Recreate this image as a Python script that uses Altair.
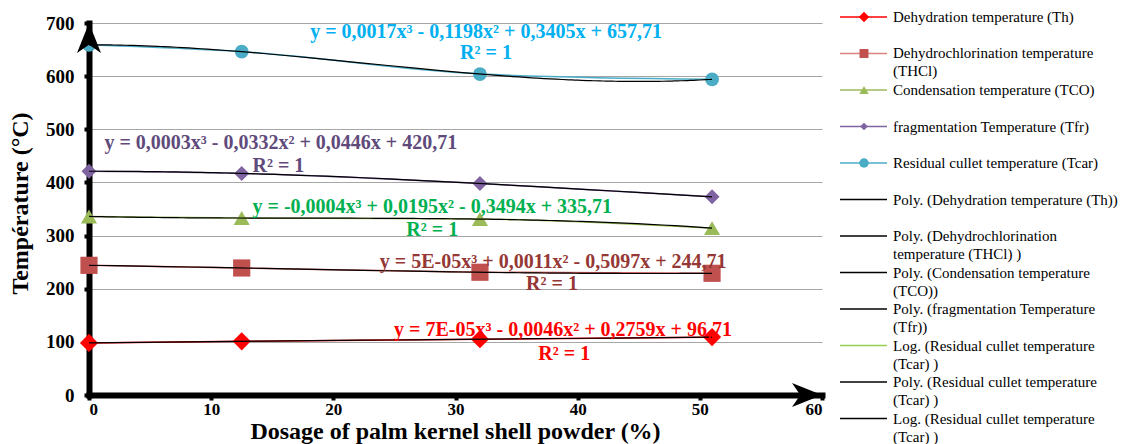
import altair as alt
import pandas as pd

# ---------------- data ----------------
dosage = [0, 12.5, 32, 51]
th = [98, 101, 105, 109]
thcl = [244, 239, 231, 229]
tco = [336, 333, 331, 314]
tfr = [421, 417, 398, 373]
tcar = [659, 646, 604, 594]

series_names = ["Th", "THCl", "TCO", "Tfr", "Tcar"]
series_values = [th, thcl, tco, tfr, tcar]

x_ticks = [0, 10, 20, 30, 40, 50, 60]
y_ticks = [0, 100, 200, 300, 400, 500, 600, 700]

# styles
series_colors = ["#FF0000", "#C0504D", "#9BBB59", "#8064A2", "#4BACC6"]
series_shapes = ["diamond", "square", "triangle-up", "diamond", "circle"]
series_sizes = [330, 190, 230, 100, 270]

# equations (annotation text and anchor in data units)
eq_text = [
    "y = 0,0017x³ - 0,1198x² + 0,3405x + 657,71", "R² = 1",
    "y = 0,0003x³ - 0,0332x² + 0,0446x + 420,71", "R² = 1",
    "y = -0,0004x³ + 0,0195x² - 0,3494x + 335,71", "R² = 1",
    "y = 5E-05x³ + 0,0011x² - 0,5097x + 244,71", "R² = 1",
    "y = 7E-05x³ - 0,0046x² + 0,2759x + 96,71", "R² = 1",
]
eq_x = [32.5, 32.5, 15.7, 15.5, 28.1, 28.1, 38.0, 37.9, 38.8, 38.9]
eq_y = [684, 643, 475, 430, 353, 311, 250, 209, 123, 78]
eq_colors = ["#00B0F0", "#00B0F0", "#604A7B", "#604A7B", "#00B050", "#00B050",
             "#953735", "#953735", "#FF0000", "#FF0000"]

# legend
leg_line1 = [
    "Dehydration temperature (Th)",
    "Dehydrochlorination temperature",
    "Condensation temperature (TCO)",
    "fragmentation Temperature (Tfr)",
    "Residual cullet temperature (Tcar)",
    "Poly. (Dehydration temperature (Th))",
    "Poly. (Dehydrochlorination",
    "Poly. (Condensation temperature",
    "Poly. (fragmentation Temperature",
    "Log. (Residual cullet temperature",
    "Poly. (Residual cullet temperature",
    "Log. (Residual cullet temperature",
]
leg_line2 = ["", "(THCl)", "", "", "", "", "temperature (THCl) )", "(TCO))",
             "(Tfr))", "(Tcar) )", "(Tcar) )", "(Tcar) )"]
leg_line_colors = ["#FF0000", "#D98380", "#9BBB59", "#8064A2", "#4BACC6",
                   "black", "black", "black", "black", "#92D050", "black", "black"]
leg_marker_sizes = [110, 80, 90, 60, 90]

FONT = "Liberation Serif"

# ---------------- tables ----------------
rows = []
for name, vals in zip(series_names, series_values):
    for xv, yv in zip(dosage, vals):
        rows.append({"series": name, "dosage": xv, "temp": yv})
df = pd.DataFrame(rows)

df_eq = pd.DataFrame({"dosage": eq_x, "temp": eq_y, "text": eq_text, "color": eq_colors})

df_leg = pd.DataFrame({
    "idx": list(range(len(leg_line1))),
    "l1": leg_line1,
    "l2": leg_line2,
    "lc": leg_line_colors,
})
df_legm = pd.DataFrame({
    "idx": list(range(len(series_names))),
    "mc": series_colors,
    "shape": series_shapes,
    "ms": leg_marker_sizes,
})

df_arrow_y = pd.DataFrame({"dosage": [x_ticks[0]], "temp": [y_ticks[-1]]})
df_arrow_x = pd.DataFrame({"dosage": [x_ticks[-1]], "temp": [y_ticks[0]]})

# ---------------- scales / axes ----------------
xscale = alt.Scale(domain=[x_ticks[0], x_ticks[-1]], nice=False, zero=False)
yscale = alt.Scale(domain=[y_ticks[0], y_ticks[-1]], nice=False, zero=False)

x_axis = alt.Axis(
    values=x_ticks, grid=False, title="Dosage of palm kernel shell powder (%)",
    labelFont=FONT, labelFontWeight="bold", labelFontSize=17, labelColor="black",
    labelPadding=1, tickColor="black", tickWidth=4, tickSize=5,
    domainColor="black", domainWidth=6, domainCap="square",
    titleFont=FONT, titleFontWeight="bold", titleFontSize=24, titleColor="black",
    titleX=366, titleY=43, titleBaseline="alphabetic", titleAlign="center",
)
y_axis = alt.Axis(
    values=y_ticks, grid=True, gridColor="#A6A6A6", gridWidth=1.2,
    title="Température (°C)",
    labelFont=FONT, labelFontWeight="bold", labelFontSize=19, labelColor="black",
    labelPadding=10, tickColor="black", tickWidth=4, tickSize=5,
    domainColor="black", domainWidth=6, domainCap="square",
    titleFont=FONT, titleFontWeight="bold", titleFontSize=24, titleColor="black",
    titleAngle=270, titleX=-57, titleY=180, titleBaseline="bottom", titleAlign="center",
)

X = alt.X("dosage:Q", scale=xscale, axis=x_axis)
Y = alt.Y("temp:Q", scale=yscale, axis=y_axis)

color = alt.Color("series:N", scale=alt.Scale(domain=series_names, range=series_colors), legend=None)
shape = alt.Shape("series:N", scale=alt.Scale(domain=series_names, range=series_shapes), legend=None)
size = alt.Size("series:N", scale=alt.Scale(domain=series_names, range=series_sizes), legend=None)

base = alt.Chart(df)

series_lines = base.mark_line(strokeWidth=1.5, interpolate="monotone").encode(
    x=X, y=Y, color=color, detail="series:N")

markers = base.mark_point(filled=True, opacity=1).encode(
    x=X, y=Y, color=color, shape=shape, size=size)

trend = base.transform_regression(
    "dosage", "temp", groupby=["series"], method="poly", order=3
).mark_line(color="black", strokeWidth=1.2).encode(x=X, y=Y, detail="series:N")

arrow_up = alt.Chart(df_arrow_y).mark_point(
    shape="M0,0L0.8,2L0,1.45L-0.8,2Z", filled=True, color="black", opacity=1, size=900
).encode(x=X, y=Y)
arrow_right = alt.Chart(df_arrow_x).mark_point(
    shape="M0,0L-2,-0.8L-1.45,0L-2,0.8Z", filled=True, color="black", opacity=1, size=900
).encode(x=X, y=Y)

eq = alt.Chart(df_eq).mark_text(
    font=FONT, fontWeight="bold", fontSize=20, align="center", baseline="middle"
).encode(
    x=X, y=Y,
    text="text:N",
    color=alt.Color("color:N", scale=None),
)

main = alt.layer(series_lines, markers, trend, arrow_up, arrow_right, eq)

# ---------------- legend ----------------
leg_scale = alt.Scale(domain=[0.1644, 10.356], reverse=True, nice=False, zero=False)
LY = alt.Y("idx:Q", scale=leg_scale, axis=None)

leg_rules = alt.Chart(df_leg).mark_rule(strokeWidth=1.3).encode(
    x=alt.value(751), x2=alt.value(798), y=LY, color=alt.Color("lc:N", scale=None))
leg_marks = alt.Chart(df_legm).mark_point(filled=True, opacity=1).encode(
    x=alt.value(775), y=LY,
    color=alt.Color("mc:N", scale=None),
    shape=alt.Shape("shape:N", scale=None),
    size=alt.Size("ms:Q", scale=None),
)
leg_t1 = alt.Chart(df_leg).mark_text(
    font=FONT, fontSize=15, align="left", baseline="middle", color="black"
).encode(x=alt.value(804), y=LY, text="l1:N")
leg_t2 = alt.Chart(df_leg).mark_text(
    font=FONT, fontSize=15, align="left", baseline="middle", color="black", dy=18
).encode(x=alt.value(804), y=LY, text="l2:N")

legend = alt.layer(leg_rules, leg_marks, leg_t1, leg_t2)

chart = alt.layer(main, legend).resolve_scale(
    y="independent", color="independent", shape="independent", size="independent"
).properties(
    width=733, height=372,
    autosize=alt.AutoSizeParams(type="none"),
    padding={"left": 89, "top": 23, "right": 301, "bottom": 49},
    background="white",
).configure_view(stroke=None)

chart.save("out.html", embed_options={"renderer": "svg", "actions": False})
